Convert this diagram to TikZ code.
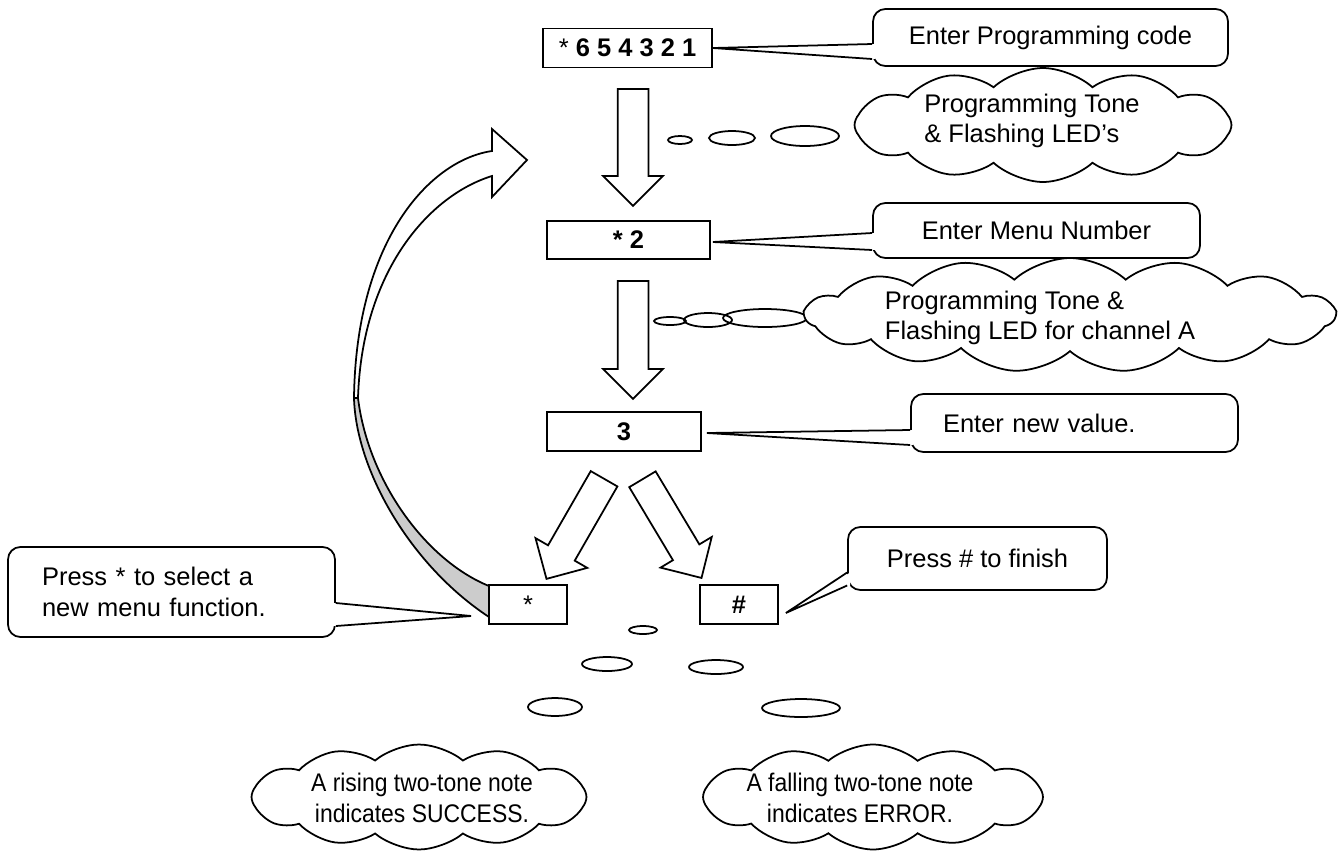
\documentclass[tikz,border=0pt]{standalone}
\usepackage{fontspec}
\setmainfont{Liberation Sans}
\newfontfamily\narrowfont[FakeStretch=0.9]{Liberation Sans}
\usetikzlibrary{shapes.arrows, shapes.symbols, calc}
\newcommand{\bodyfont}{\fontsize{14.5}{17.5}\selectfont}
\tikzset{
    keybox/.style={rectangle, draw, line width=1pt, fill=white, minimum height=0.78cm,
        font=\bodyfont, inner sep=0pt},
    callbox/.style={rectangle, draw, line width=1pt, rounded corners=7pt, fill=white,
        font=\bodyfont, align=center},
    toncloud/.style={cloud, draw, line width=1pt, fill=white, cloud puffs=12,
        cloud puff arc=85, cloud ignores aspect, inner sep=0pt},
    cloudtxt/.style={align=left, font=\bodyfont},
    downarrow/.style={single arrow, draw, line width=1pt, fill=white, inner xsep=0pt,
        inner ysep=0.29cm, single arrow head extend=0.29cm, anchor=tail},
    bubble/.style={line width=1pt},
    tailline/.style={line width=1pt},
}
% tail of a callout: anchor, tip, two offsets along the side, inward shift
\newcommand{\calltail}[5]{%
    \fill[white] ($(#1)+(#5,#3)$) -- (#2) -- ($(#1)+(#5,#4)$) -- cycle;
    \draw[tailline] ($(#1)+(0,#3)$) -- (#2) -- ($(#1)+(0,#4)$);
}

\begin{document}
\begin{tikzpicture}[x=0.02cm, y=-0.02cm]
    \useasboundingbox (0,0) rectangle (1340,850);

    % return arrow back to the menu
    \filldraw[fill=black!20, line width=1pt, line join=round]
        (354,398) .. controls (356,470) and (410,565) .. (489,617)
        -- (489,586) .. controls (425,560) and (368,480) .. (358,398) -- cycle;
    \filldraw[fill=white, line width=1pt, line join=miter]
        (492,129) -- (527,160) -- (492,197) -- (492,176)
        .. controls (430,195) and (362,270) .. (358,398) -- (354,398)
        .. controls (356,240) and (430,160) .. (492,151) -- cycle;

    % key entries
    \node[keybox, minimum width=3.38cm] (b1) at (627.5,48) {* \textbf{6 5 4 3 2 1}};
    \node[keybox, minimum width=3.26cm, minimum height=0.76cm] (b2) at (628.5,240) {\textbf{* 2}};
    \node[keybox, minimum width=3.08cm] (b3) at (624,431.5) {\textbf{3}};
    \node[keybox, minimum width=1.56cm] (b4) at (528,604.5) {*};
    \node[keybox, minimum width=1.56cm] (b5) at (739,604.5) {\textbf{\#}};

    % block arrows
    \node[downarrow, minimum height=2.34cm, rotate=-90] (a1) at (633,88) {};
    \node[downarrow, minimum height=2.36cm, rotate=-90] (a2) at (633,280) {};
    \node[downarrow, minimum height=2.31cm, rotate=240.1] (a3) at (604.5,478) {};
    \node[downarrow, minimum height=2.30cm, rotate=-59.1] (a4) at (642,478.5) {};

    % callouts
    \node[callbox, minimum width=7.1cm, minimum height=1.14cm] (c1) at (1050.5,37.5) {Enter Programming code};
    \calltail{c1.west}{b1.east}{6.5}{21.5}{3}
    \node[callbox, minimum width=6.54cm, minimum height=1.1cm] (c2) at (1036.5,230.5) {Enter Menu Number};
    \calltail{c2.west}{$(b2.east)+(2,2)$}{2.5}{19.5}{3}
    \node[callbox, minimum width=6.54cm, minimum height=1.16cm, text width=5.26cm,
        align=left, inner xsep=0.64cm] (c3) at (1074.5,423) {Enter new value.};
    \calltail{c3.west}{$(b3.east)+(5,1.5)$}{7}{22}{3}
    \node[callbox, minimum width=5.18cm, minimum height=1.26cm] (c4) at (977.5,558.5) {Press \# to finish};
    \calltail{c4.west}{$(b5.east)+(7,8.5)$}{14}{27}{3}
    \node[callbox, minimum width=6.54cm, minimum height=1.8cm, text width=5.18cm,
        align=left, inner xsep=0.68cm] (c5) at (171.5,592) {Press * to select a\\new menu function.};
    \calltail{c5.east}{$(b4.west)+(-17,11.5)$}{11}{34}{-3}

    % thought bubbles
    \draw[bubble] (680,140) ellipse [x radius=0.24cm, y radius=0.08cm];
    \draw[bubble] (732,138) ellipse [x radius=0.46cm, y radius=0.14cm];
    \draw[bubble] (805,136) ellipse [x radius=0.68cm, y radius=0.2cm];
    \draw[bubble] (670,321) ellipse [x radius=0.32cm, y radius=0.08cm];
    \draw[bubble] (708,320) ellipse [x radius=0.48cm, y radius=0.14cm];
    \draw[bubble] (765,318) ellipse [x radius=0.84cm, y radius=0.18cm];
    \draw[bubble] (643,630) ellipse [x radius=0.28cm, y radius=0.08cm];
    \draw[bubble] (607,664) ellipse [x radius=0.5cm, y radius=0.14cm];
    \draw[bubble] (716,667) ellipse [x radius=0.54cm, y radius=0.14cm];
    \draw[bubble] (555,707) ellipse [x radius=0.54cm, y radius=0.18cm];
    \draw[bubble] (801,708) ellipse [x radius=0.78cm, y radius=0.18cm];

    % tone clouds
    \node[toncloud, minimum width=7.54cm, minimum height=2.28cm,
        label={[cloudtxt, xshift=-0.22cm, yshift=0.08cm]center:{Programming Tone\\\& Flashing LED's}}]
        (cl1) at (1043,125) {};
    \node[toncloud, cloud puffs=15, minimum width=10.6cm, minimum height=2.28cm,
        label={[cloudtxt, xshift=-0.6cm, yshift=-0.06cm]center:{Programming Tone \&\\Flashing LED for channel A}}]
        (cl2) at (1070,315) {};
    \node[toncloud, cloud puff arc=80, minimum width=6.7cm, minimum height=2.1cm,
        label={[cloudtxt, align=center, font=\bodyfont\narrowfont, xshift=0.06cm, yshift=-0.02cm]center:{A rising two-tone note\\indicates SUCCESS.}}]
        (cl3) at (419,797) {};
    \node[toncloud, cloud puff arc=80, minimum width=6.8cm, minimum height=2.1cm,
        label={[cloudtxt, align=center, font=\bodyfont\narrowfont, xshift=-0.26cm, yshift=-0.02cm]center:{A falling two-tone note\\indicates ERROR.}}]
        (cl4) at (873,797) {};
\end{tikzpicture}
\end{document}
